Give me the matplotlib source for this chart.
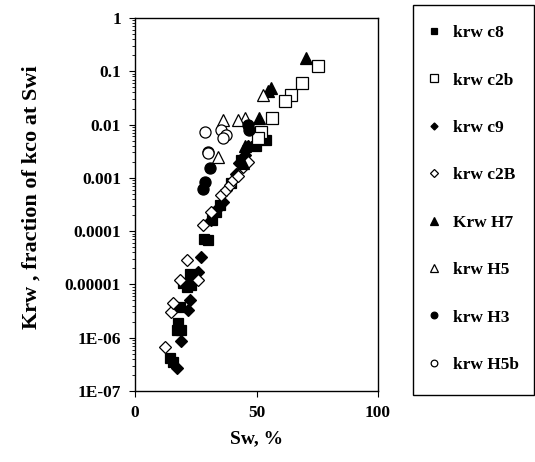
import matplotlib
matplotlib.use("Agg")
import matplotlib.pyplot as plt
from matplotlib.patches import Rectangle
from matplotlib.ticker import FixedLocator, FixedFormatter, LogLocator, NullFormatter

plt.rcParams['font.family'] = ['Liberation Serif', 'DejaVu Serif']
plt.rcParams['font.weight'] = 'bold'

# ---- data (Sw %, Krw fraction) ----
c8_sw  = [14.3, 15.7, 17.1, 19.1, 17.7, 18.4, 19.8, 21.2, 22.5, 23.2, 28.3, 30.0, 31.8, 33.5, 34.8, 39.6, 43.7, 49.9, 54.0]
c8_kr  = [4.2e-7, 3.5e-7, 1.4e-6, 1.4e-6, 1.9e-6, 3.8e-6, 1.05e-5, 9.1e-6, 1.6e-5, 9.8e-6, 7.1e-5, 6.8e-5, 1.6e-4, 2.3e-4, 3.1e-4, 7.9e-4, 2.2e-3, 3.9e-3, 5.1e-3]

c2b_sw = [75.4, 68.6, 64.2, 61.9, 56.3, 51.9, 50.5]
c2b_kr = [0.123, 0.059, 0.036, 0.0275, 0.0132, 0.0074, 0.0055]

c9_sw  = [17.1, 19.1, 21.8, 22.5, 25.9, 27.3, 31.4, 34.1, 36.2, 41.7, 43.0, 45.1, 46.4]
c9_kr  = [2.7e-7, 8.5e-7, 3.3e-6, 5.1e-6, 1.7e-5, 3.3e-5, 1.6e-4, 2.7e-4, 3.5e-4, 1.2e-3, 1.9e-3, 2.7e-3, 3.9e-3]

c2B_sw = [12.3, 15.0, 15.7, 18.4, 21.2, 25.9, 28.0, 31.4, 35.5, 37.6, 38.9, 40.3, 42.3, 44.4, 46.4]
c2B_kr = [6.8e-7, 3.1e-6, 4.5e-6, 1.2e-5, 2.9e-5, 1.2e-5, 1.3e-4, 2.3e-4, 4.8e-4, 5.9e-4, 7.4e-4, 9.1e-4, 1.1e-3, 1.6e-3, 2.0e-3]

H7_sw  = [70.4, 56.0, 54.6, 51.2, 45.4, 44.4]
H7_kr  = [0.174, 0.048, 0.042, 0.0132, 0.0040, 0.0019]

H5_sw  = [52.6, 45.1, 42.3, 36.2, 34.1]
H5_kr  = [0.036, 0.0132, 0.0123, 0.0123, 0.0025]

H3_sw  = [30.0, 30.7, 28.7, 28.0, 46.4, 47.1]
H3_kr  = [0.0031, 0.0015, 8.5e-4, 6.3e-4, 0.0098, 0.0079]

H5b_sw = [28.7, 35.5, 37.6, 36.2, 30.0]
H5b_kr = [0.0074, 0.0079, 0.0063, 0.0055, 0.0029]

yticks = [1e-7, 1e-6, 1e-5, 1e-4, 1e-3, 1e-2, 1e-1, 1]
ytick_labels = ['1E-07', '1E-06', '0.00001', '0.0001', '0.001', '0.01', '0.1', '1']
xticks = [0, 50, 100]
xtick_labels = ['0', '50', '100']

W, H = 535, 462
fig = plt.figure(figsize=(W/100, H/100), dpi=100)
ax = fig.add_axes([135/W, 1-391/H, (378-135)/W, (391-18)/H])

ms = 7.5
kw = dict(linestyle='none', markeredgewidth=0.9, markeredgecolor='black')
ax.plot(c8_sw, c8_kr, marker='s', color='black', markersize=ms, label='krw c8', **kw)
ax.plot(c2b_sw, c2b_kr, marker='s', markerfacecolor='white', color='black', markersize=ms+1, label='krw c2b', **kw)
ax.plot(c9_sw, c9_kr, marker='D', color='black', markersize=ms-1.5, label='krw c9', **kw)
ax.plot(c2B_sw, c2B_kr, marker='D', markerfacecolor='white', color='black', markersize=ms-1, label='krw c2B', **kw)
ax.plot(H7_sw, H7_kr, marker='^', color='black', markersize=ms+1, label='Krw H7', **kw)
ax.plot(H5_sw, H5_kr, marker='^', markerfacecolor='white', color='black', markersize=ms+1, label='krw H5', **kw)
ax.plot(H3_sw, H3_kr, marker='o', color='black', markersize=ms+0.5, label='krw H3', **kw)
ax.plot(H5b_sw, H5b_kr, marker='o', markerfacecolor='white', color='black', markersize=ms+0.5, label='krw H5b', **kw)

ax.set_yscale('log')
ax.set_ylim(1e-7, 1)
ax.set_xlim(0, 100)
ax.yaxis.set_major_locator(FixedLocator(yticks))
ax.yaxis.set_major_formatter(FixedFormatter(ytick_labels))
ax.yaxis.set_minor_locator(LogLocator(base=10, subs=range(2, 10)))
ax.yaxis.set_minor_formatter(NullFormatter())
ax.xaxis.set_major_locator(FixedLocator(xticks))
ax.xaxis.set_major_formatter(FixedFormatter(xtick_labels))

ax.tick_params(axis='both', which='major', direction='out', length=4, width=0.8, labelsize=12.5, pad=6)
ax.tick_params(axis='y', which='minor', direction='out', length=2, width=0.6)
for lab in ax.get_xticklabels() + ax.get_yticklabels():
    lab.set_fontweight('bold')
for s in ax.spines.values():
    s.set_linewidth(1.0)

ax.set_xlabel('Sw, %', fontsize=14, fontweight='bold', labelpad=7)
ax.set_ylabel('Krw , fraction of kco at Swi', fontsize=16, fontweight='bold', labelpad=17)
ax.yaxis.label.set_y(0.52)

# legend frame drawn in figure pixel coordinates
fig.patches.append(Rectangle((413/W, 1-395/H), (534-413)/W, (395-5)/H,
                             transform=fig.transFigure, fill=False,
                             edgecolor='black', linewidth=1.0))
leg = fig.legend(loc='upper left', bbox_to_anchor=(427/W, 1-25/H), frameon=False,
                 markerscale=0.6,
                 prop={'family': 'Liberation Serif', 'weight': 'bold', 'size': 12.5},
                 labelspacing=1.8, borderpad=0, handletextpad=0.7, borderaxespad=0,
                 handlelength=0.8)

fig.savefig('out.png', dpi=100)
